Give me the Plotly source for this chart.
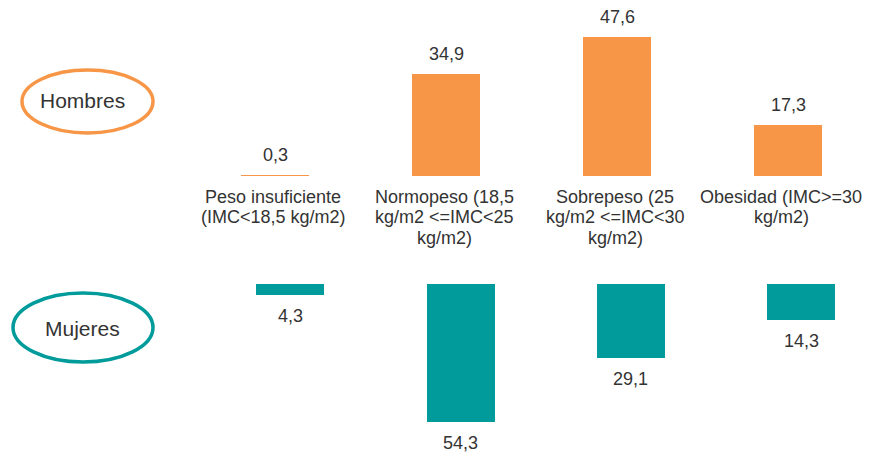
import plotly.graph_objects as go

categories = ["Peso insuficiente<br>(IMC<18,5 kg/m2)",
              "Normopeso (18,5<br>kg/m2 <=IMC<25<br>kg/m2)",
              "Sobrepeso (25<br>kg/m2 <=IMC<30<br>kg/m2)",
              "Obesidad (IMC>=30<br>kg/m2)"]
hombres = [0.3, 34.9, 47.6, 17.3]
mujeres = [4.3, 54.3, 29.1, 14.3]

ORANGE = "#F79646"
TEAL = "#009B9A"
TXT = "#333333"
FONT = "Liberation Sans, Arial, sans-serif"
W, H = 872, 452
OFF = 8  # page body margin offset

idx = list(range(len(categories)))

def fmt(v):
    return f"{v:.1f}".replace(".", ",")

fig = go.Figure()
fig.add_trace(go.Bar(x=idx, y=hombres, marker=dict(color=ORANGE, line=dict(width=0)),
                     width=68/171.0, xaxis="x", yaxis="y", showlegend=False,
                     hoverinfo="skip"))
fig.add_trace(go.Bar(x=idx, y=mujeres, marker=dict(color=TEAL, line=dict(width=0)),
                     width=68/170.3, xaxis="x2", yaxis="y2", showlegend=False,
                     hoverinfo="skip"))

# men: baseline at 176px (ref), 2.92 px/unit ; women: baseline 284px, 2.541 px/unit
m_s, m_b = 2.92, 176 - OFF
w_s, w_b = 2.541, 284 - OFF
mc0, msp = 275 - OFF, 171.0
wc0, wsp = 290.3 - OFF, 170.3
hidden = dict(visible=False, showgrid=False, zeroline=False, fixedrange=True)
fig.update_layout(
    width=W, height=H, margin=dict(l=0, r=0, t=0, b=0),
    paper_bgcolor="white", plot_bgcolor="white",
    font=dict(family=FONT, color=TXT),
    bargap=0,
    xaxis=dict(range=[-mc0/msp, (W-mc0)/msp], domain=[0, 1], **hidden),
    yaxis=dict(range=[(m_b-H)/m_s, m_b/m_s], domain=[0, 1], **hidden),
    xaxis2=dict(range=[-wc0/wsp, (W-wc0)/wsp], domain=[0, 1], anchor="y2", overlaying="x", **hidden),
    yaxis2=dict(range=[(H-w_b)/w_s, -w_b/w_s], domain=[0, 1], anchor="x2", overlaying="y", **hidden),
)

# value labels
for i, v in enumerate(hombres):
    fig.add_annotation(x=i, y=v, xref="x", yref="y", text=fmt(v), showarrow=False,
                       xanchor="center", yanchor="middle", yshift=20,
                       font=dict(size=18, color=TXT, family=FONT))
for i, v in enumerate(mujeres):
    fig.add_annotation(x=i, y=v, xref="x2", yref="y2", text=fmt(v), showarrow=False,
                       xanchor="center", yanchor="middle", yshift=-21,
                       font=dict(size=18, color=TXT, family=FONT))

# category labels (one annotation per line for tight line spacing)
for i, c in enumerate(categories):
    shift = -7 if i == len(categories) - 1 else -2
    for j, line in enumerate(c.split("<br>")):
        ypx = 196.5 + 20.5 * j - OFF
        fig.add_annotation(x=i, xref="x", y=1 - ypx / H, yref="paper", text=line,
                           showarrow=False, yanchor="middle", xanchor="center",
                           xshift=shift,
                           font=dict(size=18, color=TXT, family=FONT))

def px(x, y):
    return (x - OFF) / W, 1 - (y - OFF) / H

for (x0, y0, x1, y1, col, label, tx, ty) in [(22, 70, 153, 133, ORANGE, "Hombres", 82, 101),
                                             (13, 293, 153, 362, TEAL, "Mujeres", 82, 328)]:
    a = px(x0, y0); b = px(x1, y1)
    fig.add_shape(type="circle", xref="paper", yref="paper",
                  x0=a[0], y0=b[1], x1=b[0], y1=a[1],
                  line=dict(color=col, width=3.5), fillcolor="rgba(0,0,0,0)")
    t = px(tx, ty)
    fig.add_annotation(x=t[0], y=t[1], xref="paper", yref="paper",
                       xanchor="center", yanchor="middle",
                       text=label, showarrow=False,
                       font=dict(size=21, color=TXT, family=FONT))

fig.write_html("out.html")
